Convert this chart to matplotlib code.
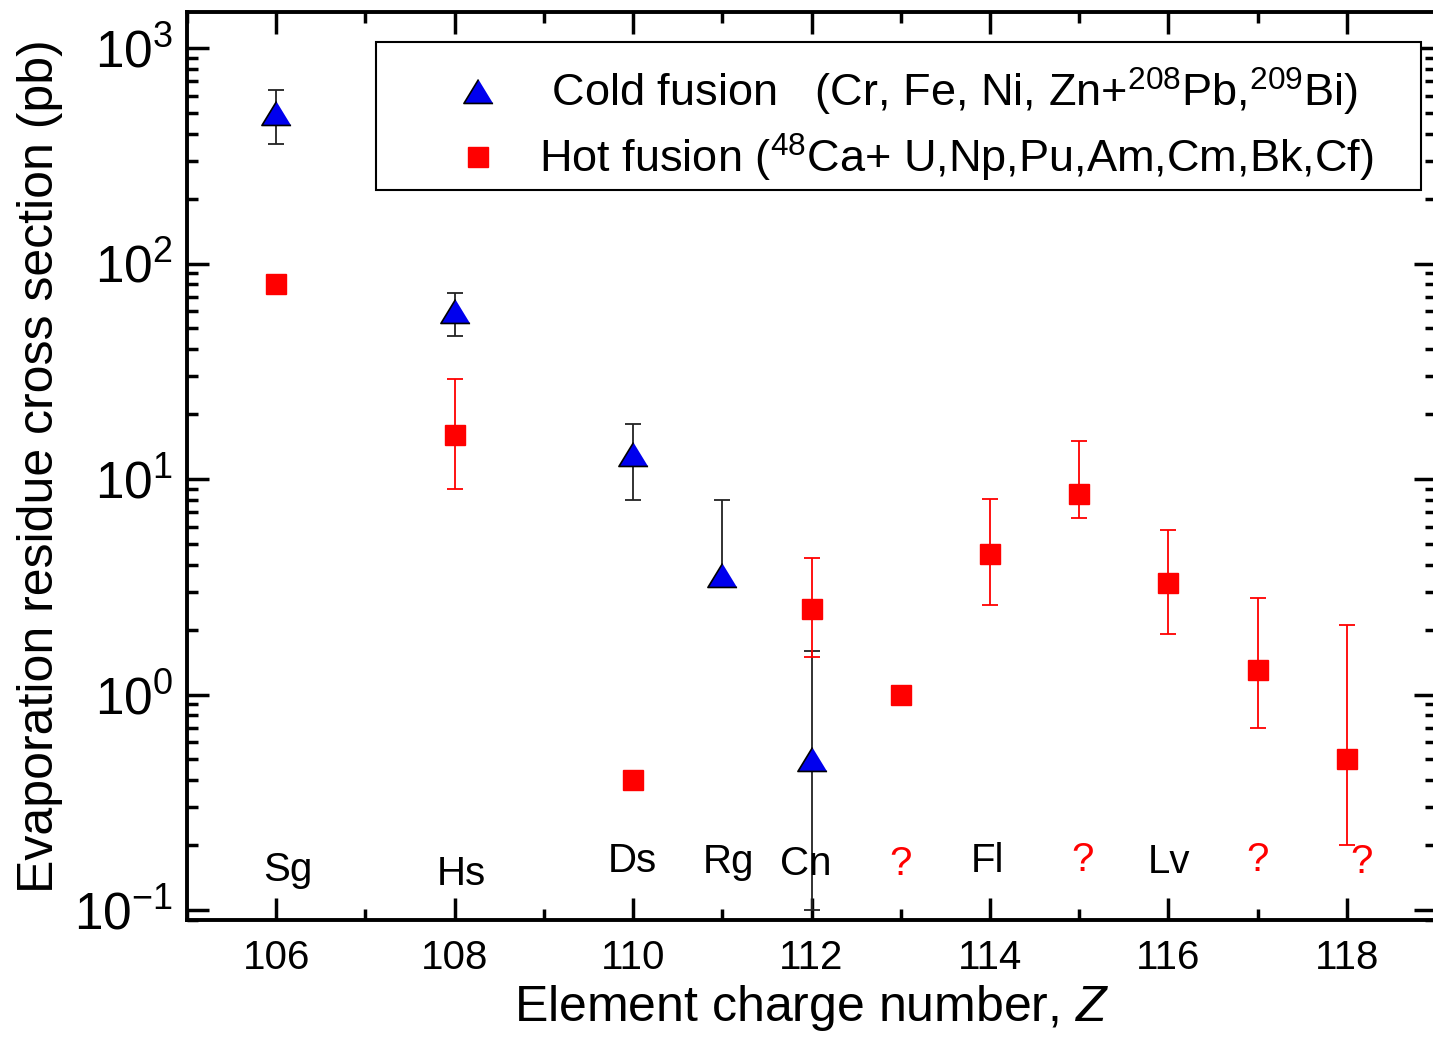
import numpy as np
import matplotlib
matplotlib.use("Agg")
import matplotlib.pyplot as plt
from matplotlib.lines import Line2D
from matplotlib.patches import Rectangle
from matplotlib.ticker import LogLocator, MultipleLocator, NullFormatter

plt.rcParams['font.family'] = ['Liberation Sans', 'DejaVu Sans']
plt.rcParams['mathtext.fontset'] = 'custom'
plt.rcParams['mathtext.rm'] = 'Liberation Sans'
plt.rcParams['mathtext.it'] = 'Liberation Sans:italic'
plt.rcParams['mathtext.default'] = 'regular'

# cold fusion (Cr, Fe, Ni, Zn + 208Pb, 209Bi), pb
z_cold = [106, 108, 110, 111, 112]
sigma_cold = [500, 60, 13, 3.6, 0.5]
cold_upper = [640, 73, 18, 8.0, 1.6]
cold_lower = [360, 46, 8.0, 3.6, 0.1]

# hot fusion (48Ca + actinides), pb
z_hot = [106, 108, 110, 112, 113, 114, 115, 116, 117, 118]
sigma_hot = [80, 16, 0.4, 2.5, 1.0, 4.5, 8.5, 3.3, 1.3, 0.5]
hot_upper = [80, 29, 0.4, 4.3, 1.0, 8.1, 15, 5.8, 2.8, 2.1]
hot_lower = [80, 9.0, 0.4, 1.5, 1.0, 2.6, 6.6, 1.9, 0.7, 0.2]

# element names written along the bottom
elem_names = ['Sg', 'Hs', 'Ds', 'Rg', 'Cn', '?', 'Fl', '?', 'Lv', '?', '?']
elem_x = [106.13, 108.07, 109.99, 111.07, 111.93, 113.0, 113.97, 115.04, 116.01, 117.0, 118.17]
elem_y = [0.136, 0.131, 0.150, 0.149, 0.146, 0.146, 0.150, 0.152, 0.149, 0.152, 0.149]
elem_colors = ['black', 'black', 'black', 'black', 'black', 'red', 'black', 'red', 'black', 'red', 'red']

W, H = 1433, 1037
fig = plt.figure(figsize=(W / 100, H / 100), dpi=100)
ax = fig.add_axes([187 / W, 1 - 920 / H, 1249 / W, 908 / H])

tri = [(0, 0.82), (-1, -0.82), (1, -0.82)]


def half_bars(z, val, lim, color):
    # one-sided bars, skipping points whose limit equals the value
    z, val, lim = np.array(z), np.array(val), np.array(lim)
    keep = lim != val
    err = np.abs(lim[keep] - val[keep])
    if lim[keep].mean() > val[keep].mean():
        yerr = [np.zeros_like(err), err]
    else:
        yerr = [err, np.zeros_like(err)]
    ax.errorbar(z[keep], val[keep], yerr=yerr, fmt='none', ecolor=color,
                elinewidth=1.3, capsize=0, zorder=2)
    ax.plot(z[keep], lim[keep], ls='none', marker='_', ms=11, mew=1.3, color=color, zorder=2)


half_bars(z_cold, sigma_cold, cold_upper, '#222222')
half_bars(z_cold, sigma_cold, cold_lower, '#222222')
half_bars(z_hot, sigma_hot, hot_upper, 'red')
half_bars(z_hot, sigma_hot, hot_lower, 'red')

ax.plot(z_hot, sigma_hot, ls='none', marker='s', ms=15, mfc='red', mec='red', zorder=3)
ax.plot(z_cold, sigma_cold, ls='none', marker=tri, ms=21, mfc='#0000ee', mec='black',
        mew=1.2, zorder=4)

for name, x, y, c in zip(elem_names, elem_x, elem_y, elem_colors):
    ax.text(x, y, name, color=c, fontsize=29, ha='center', va='baseline')

ax.set_yscale('log')
ax.set_xlim(105, 119)
ax.set_ylim(10 ** -1.046, 10 ** 3.167)

ax.xaxis.set_major_locator(MultipleLocator(2))
ax.xaxis.set_minor_locator(MultipleLocator(1))
ax.yaxis.set_major_locator(LogLocator(base=10, numticks=10))
ax.yaxis.set_minor_locator(LogLocator(base=10, subs=np.arange(2, 10), numticks=10))
ax.yaxis.set_minor_formatter(NullFormatter())

ax.tick_params(which='both', direction='in', top=True, right=True, width=2.5)
ax.tick_params(which='major', length=16)
ax.tick_params(which='minor', length=8)
ax.tick_params(axis='x', labelsize=29, pad=14)
ax.tick_params(axis='y', labelsize=37, pad=10)
for sp in ax.spines.values():
    sp.set_linewidth(2.8)

ax.set_xlabel('Element charge number, $\\mathit{Z}$', fontsize=36, labelpad=4)
ax.set_ylabel('Evaporation residue cross section (pb)', fontsize=36, labelpad=8)

# legend box drawn separately so the entries can sit inside it freely
ax.add_patch(Rectangle((0.1514, 0.804), 0.8366, 0.163, transform=ax.transAxes,
                       facecolor='white', edgecolor='black', lw=1.5, zorder=5))
handles = [
    Line2D([], [], ls='none', marker=tri, ms=21, mfc='#0000ee', mec='black', mew=1.2),
    Line2D([], [], ls='none', marker='s', ms=15, mfc='red', mec='red'),
]
labels = [
    ' Cold fusion   (Cr, Fe, Ni, Zn+$^{208}$Pb,$^{209}$Bi)',
    'Hot fusion ($^{48}$Ca+ U,Np,Pu,Am,Cm,Bk,Cf)',
]
leg = ax.legend(handles, labels, loc='center left', bbox_to_anchor=(0.2147, 0.8756),
                fontsize=32.5, frameon=False, borderpad=0, handlelength=1.0,
                handletextpad=0.85, labelspacing=0.3, borderaxespad=0)
leg.set_zorder(6)

fig.savefig('out.png', dpi=100)
